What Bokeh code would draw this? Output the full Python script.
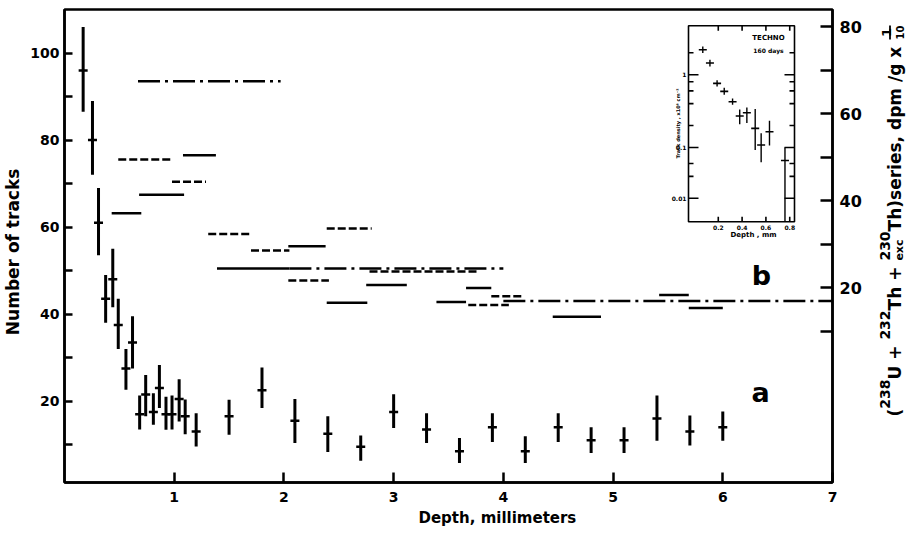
import numpy as np
from bokeh.plotting import figure
from bokeh.layouts import row
from bokeh.models import Range1d, LinearAxis, FixedTicker, Label, LogScale, Title
from bokeh.core.properties import value
from bokeh.embed import file_html
from bokeh.resources import INLINE

FONT = "DejaVu Sans"

# ---------------- data (a): number of tracks vs depth (mm) ----------------
depth_a = [0.17, 0.255, 0.31, 0.375, 0.44, 0.49, 0.56, 0.62, 0.685, 0.74, 0.81, 0.865,
           0.925, 0.98, 1.045, 1.1, 1.2, 1.5, 1.8, 2.1, 2.4, 2.7, 3.0, 3.3, 3.6, 3.9,
           4.2, 4.5, 4.8, 5.1, 5.4, 5.7, 6.0]
tracks_a = [96, 80, 61, 43.5, 48, 37.5, 27.5, 33.5, 17, 21.5, 17.5, 23,
            17, 17, 20.5, 16.5, 13, 16.5, 22.5, 15.5, 12.5, 9.5, 17.5, 13.5, 8.5, 14,
            8.5, 14, 11, 11, 16, 13, 14]
tracks_hi = [106, 89, 69, 49, 55, 43.5, 32, 39.5, 21.3, 26, 21.8, 28.3,
             21, 21.3, 25, 20.4, 17.2, 20.3, 27.7, 20.5, 16.5, 12.1, 21.6, 17.2, 11.5, 17.2,
             11.9, 17.2, 14, 14, 21.3, 16.7, 17.6]
tracks_lo = [86.5, 72, 53.5, 38, 41.6, 32, 22.6, 27.5, 13.5, 16.5, 14.6, 18.4,
             13.4, 13.5, 15.3, 12.4, 9.6, 12.3, 18.4, 10.4, 8.3, 6.3, 13.8, 10.4, 5.8, 10.6,
             5.8, 10.6, 8.1, 8.1, 10.9, 9.8, 10.9]

# ---------------- data (b): activity series, dpm/g x 1/10 (right axis) ----------------
b_start = [0.67, 0.49, 1.08, 0.98, 0.68, 0.43, 1.31, 1.70, 2.04, 2.39, 1.39, 2.05,
           2.04, 2.75, 2.39, 3.39, 3.66, 3.68, 3.89, 4.00, 4.45, 5.42, 5.69, 2.78]
b_end = [1.97, 0.98, 1.38, 1.29, 1.09, 0.70, 1.71, 2.05, 2.38, 2.80, 2.05, 4.00,
         2.41, 3.12, 2.76, 3.66, 3.89, 4.05, 4.18, 7.00, 4.89, 5.69, 6.00, 3.77]
b_level = [67.5, 49.5, 50.5, 44.4, 41.4, 37.2, 32.4, 28.6, 29.6, 33.7, 24.5, 24.5,
           21.7, 20.7, 16.6, 16.8, 20.0, 16.1, 18.1, 17.0, 13.4, 18.4, 15.4, 23.8]
b_style = ["dashdot", "dashed", "solid", "dashed", "solid", "solid", "dashed", "dashed",
           "solid", "dashed", "solid", "dashdot", "dashed", "solid", "solid", "solid",
           "solid", "dashed", "dashed", "dashdot", "solid", "solid", "solid", "dashed"]

# ---------------- inset: TECHNO, 160 days ----------------
inset_depth = [0.07, 0.13, 0.19, 0.25, 0.32, 0.38, 0.44, 0.51, 0.56, 0.63, 0.76]
inset_density = [2.2, 1.45, 0.76, 0.59, 0.425, 0.27, 0.30, 0.183, 0.108, 0.164, 0.066]
inset_hi = [2.45, 1.6, 0.84, 0.66, 0.47, 0.333, 0.355, 0.337, 0.157, 0.233, 0.1]
inset_lo = [1.98, 1.3, 0.69, 0.53, 0.385, 0.209, 0.216, 0.092, 0.0624, 0.106, 0.0095]
inset_xticks = [0.2, 0.4, 0.6, 0.8]
inset_xlabels = ["0.2", "0.4", "0.6", "0.8"]
inset_ymajor = [1, 0.1, 0.02]
inset_ylabels = ["1", "0.1", "0.01"]
inset_yminor = [2, 0.8, 0.6, 0.4, 0.2, 0.06, 0.04]

left_ticks = [10, 20, 30, 40, 50, 60, 70, 80, 90, 100]
right_ticks = [10, 20, 30, 40, 50, 60, 70, 80]
x_ticks = [1, 2, 3, 4, 5, 6, 7]

# ---------------- layout constants ----------------
X0, X1 = 0, 7
Y0, Y1 = 1.3, 110
R0, R1 = -24.7, 84
FRAME_W, FRAME_H = 768, 473
BL, BT, BR = 60, 9, 34
FX0, FY0 = 8 + BL, 8 + BT
FX1, FY1 = FX0 + FRAME_W, FY0 + FRAME_H


def px2x(px):
    return X0 + (px - FX0) / FRAME_W * (X1 - X0)


def py2y(py):
    return Y1 - (py - FY0) / FRAME_H * (Y1 - Y0)


IPX0, IPX1, IPY0, IPY1 = 692, 798, 33.3, 229.3
IX0, IX1, IY0, IY1 = -0.05, 0.84, 0.0095, 4.7
dx_pp = (IX1 - IX0) / (IPX1 - IPX0)
dl_pp = (np.log10(IY1) - np.log10(IY0)) / (IPY1 - IPY0)
ix_lo = IX0 - (IPX0 - FX0) * dx_pp
ix_hi = IX1 + (FX1 - IPX1) * dx_pp
iy_hi = 10 ** (np.log10(IY1) + (IPY0 - FY0) * dl_pp)
iy_lo = 10 ** (np.log10(IY0) - (FY1 - IPY1) * dl_pp)


def ipx(px):
    return IX0 + (px - IPX0) * dx_pp


def ipy(py):
    return 10 ** (np.log10(IY1) - (py - IPY0) * dl_pp)


p = figure(frame_width=FRAME_W, frame_height=FRAME_H,
           min_border_left=BL, min_border_top=BT, min_border_right=BR,
           min_border_bottom=533 - BT - FRAME_H,
           x_range=Range1d(X0, X1), y_range=Range1d(Y0, Y1),
           output_backend="svg", toolbar_location=None)
p.extra_y_ranges = {"right": Range1d(R0, R1), "iy": Range1d(iy_lo, iy_hi)}
p.extra_x_ranges = {"ix": Range1d(ix_lo, ix_hi)}
p.extra_y_scales = {"iy": LogScale()}

p.grid.visible = False
p.outline_line_color = "black"
p.outline_line_width = 2.5
p.background_fill_color = "white"
p.border_fill_color = "white"


def style_axis(ax, tick_in, size="14px"):
    ax.axis_line_width = 2.5
    ax.axis_line_color = "black"
    ax.major_tick_in = tick_in
    ax.major_tick_out = 0
    ax.major_tick_line_width = 2.5
    ax.minor_tick_line_color = None
    ax.major_label_text_font = FONT
    ax.major_label_text_font_style = "bold"
    ax.major_label_text_font_size = size
    ax.major_label_text_color = "black"
    ax.axis_label_text_font = FONT
    ax.axis_label_text_font_style = "bold"
    ax.axis_label_text_color = "black"


xa = p.xaxis[0]
xa.ticker = FixedTicker(ticks=x_ticks)
style_axis(xa, 10)
xa.major_label_standoff = 9

ya = p.yaxis[0]
ya.ticker = FixedTicker(ticks=left_ticks)
ya.major_label_overrides = {t: "" for t in left_ticks if t % 20}
style_axis(ya, 8)
ya.major_label_standoff = 5
ya.axis_label = "Number  of  tracks"
ya.axis_label_text_font_size = "17px"
ya.axis_label_standoff = 4

ra = LinearAxis(y_range_name="right", ticker=FixedTicker(ticks=right_ticks))
ra.major_label_overrides = {t: "" for t in right_ticks if t % 20}
style_axis(ra, 12, "16px")
ra.major_label_standoff = 7
p.add_layout(ra, "right")

# x title: centred under the depth of 4 mm like the reference
p.add_layout(Title(text="Depth, millimeters", align="left", offset=354, standoff=4,
                   text_font=FONT, text_font_style="bold", text_font_size="15px",
                   text_color="black"), "below")

# ---- series a
p.segment(x0=depth_a, y0=tracks_lo, x1=depth_a, y1=tracks_hi, line_color="black", line_width=3)
p.scatter(depth_a, tracks_a, marker="dash", size=9, line_color="black", line_width=2.5)

# ---- series b
dashes = {"solid": "solid", "dashed": "8 3", "dashdot": "22 5 3 5"}
for st, dash in dashes.items():
    idx = [i for i, s in enumerate(b_style) if s == st]
    p.segment(x0=[b_start[i] for i in idx], y0=[b_level[i] for i in idx],
              x1=[b_end[i] for i in idx], y1=[b_level[i] for i in idx],
              y_range_name="right", line_color="black", line_width=2.5, line_dash=dash)


def lab(x, y, text, size):
    p.add_layout(Label(x=x, y=y, text=text, text_font=FONT,
                       text_font_style="bold", text_font_size=f"{size}px",
                       text_align="center", text_baseline="middle", text_color="black"))


lab(px2x(764), py2y(400), "a", 27)
lab(px2x(765), py2y(283), "b", 27)

# ---------------- inset ----------------
kw = dict(x_range_name="ix", y_range_name="iy")
p.quad(left=[IX0], right=[IX1], bottom=[IY0], top=[IY1], fill_color="white",
       line_color="black", line_width=1.6, **kw)
for vals, L in ((inset_ymajor, 10), (inset_yminor, 5)):
    p.segment(x0=[IX0] * len(vals), y0=vals, x1=[IX0 + L * dx_pp] * len(vals), y1=vals,
              line_color="black", line_width=1.6, **kw)
    p.segment(x0=[IX1] * len(vals), y0=vals, x1=[IX1 - L * dx_pp] * len(vals), y1=vals,
              line_color="black", line_width=1.6, **kw)
n = len(inset_xticks)
p.segment(x0=inset_xticks, y0=[IY0] * n, x1=inset_xticks, y1=[IY0 * 10 ** (5 * dl_pp)] * n,
          line_color="black", line_width=1.6, **kw)
p.segment(x0=inset_xticks, y0=[IY1] * n, x1=inset_xticks, y1=[IY1 / 10 ** (5 * dl_pp)] * n,
          line_color="black", line_width=1.6, **kw)
tkw = dict(text_font=value(FONT), text_font_style="bold", text_color="black")
p.text(x=[IX0 - 2 * dx_pp] * len(inset_ymajor), y=inset_ymajor, text=inset_ylabels,
       text_font_size="6px", text_align="right", text_baseline="middle", **tkw, **kw)
p.text(x=inset_xticks, y=[IY0 / 10 ** (3 * dl_pp)] * n, text=inset_xlabels,
       text_font_size="6px", text_align="center", text_baseline="top", **tkw, **kw)
p.text(x=[ipx(757)], y=[ipy(238)], text=["Depth , mm"], text_font_size="7px",
       text_align="center", text_baseline="top", **tkw, **kw)
p.text(x=[ipx(681)], y=[ipy(131)], text=["Track density , x10⁶ cm⁻²"], angle=np.pi / 2,
       text_font_size="5px", text_align="center", text_baseline="alphabetic", **tkw, **kw)
p.text(x=[ipx(772)], y=[ipy(45)], text=["TECHNO"], text_font_size="7px",
       text_align="center", text_baseline="middle", **tkw, **kw)
p.text(x=[ipx(772)], y=[ipy(58)], text=["160 days"], text_font_size="6px",
       text_align="center", text_baseline="middle", **tkw, **kw)
p.segment(x0=inset_depth, y0=inset_lo, x1=inset_depth, y1=inset_hi,
          line_color="black", line_width=1.4, **kw)
p.scatter(inset_depth, inset_density, marker="dash", size=8, line_color="black",
          line_width=1.6, **kw)

# ---------------- right-hand title panel (rotated, reading upward) ----------------
W2, H2 = 41, 533
P2X = 8 + BL + FRAME_W + BR          # page x of the title panel's left edge
t = figure(frame_width=W2, frame_height=H2, x_range=Range1d(0, W2), y_range=Range1d(0, H2),
           x_axis_location=None, y_axis_location=None,
           min_border=0, output_backend="svg", toolbar_location=None)
t.grid.visible = False
t.outline_line_color = None
t.background_fill_color = "white"
t.border_fill_color = "white"


def tx(px):
    return px - P2X


def ty(py):
    return (8 + H2) - py


F, S = 17, 14
pieces = [("(", F, 0), ("238", S, 1), ("U + ", F, 0), ("232", S, 1), ("Th + ", F, 0),
          ("230", S, 1), ("Th)series, dpm /g x ", F, 0)]
adv = {"(": .457, ")": .457, " ": .348, "U": .812, "+": .838, "T": .682, "h": .712,
       "s": .595, "e": .678, "r": .493, "i": .343, ",": .380, "d": .716, "p": .716,
       "m": 1.042, "/": .365, "g": .716, "x": .663, "c": .593}
base_main, base_sup, base_sub = 898, 888, 903
cur = 415.0
for txt, size, kind in pieces:
    t.text(x=[tx(base_sup if kind else base_main)], y=[ty(cur)], text=[txt], angle=np.pi / 2,
           text_font_size=f"{size}px", text_align="left", text_baseline="alphabetic", **tkw)
    if txt == "230":
        t.text(x=[tx(base_sub)], y=[ty(cur)], text=["exc"], angle=np.pi / 2,
               text_font_size="11px", text_align="left", text_baseline="alphabetic", **tkw)
    cur -= sum(adv.get(c, .696) for c in txt) * size
# fraction 1/10
t.text(x=[tx(base_sup + 2)], y=[ty(cur - 8)], text=["1"], angle=np.pi / 2,
       text_font_size="13px", text_align="center", text_baseline="alphabetic", **tkw)
t.segment(x0=[tx(893.5)], y0=[ty(cur - 1)], x1=[tx(893.5)], y1=[ty(cur - 15)],
          line_color="black", line_width=1.8)
t.text(x=[tx(base_sub)], y=[ty(cur - 8)], text=["10"], angle=np.pi / 2,
       text_font_size="10px", text_align="center", text_baseline="alphabetic", **tkw)

layout = row(p, t, spacing=0)
open("out.html", "w").write(file_html(layout, INLINE))
